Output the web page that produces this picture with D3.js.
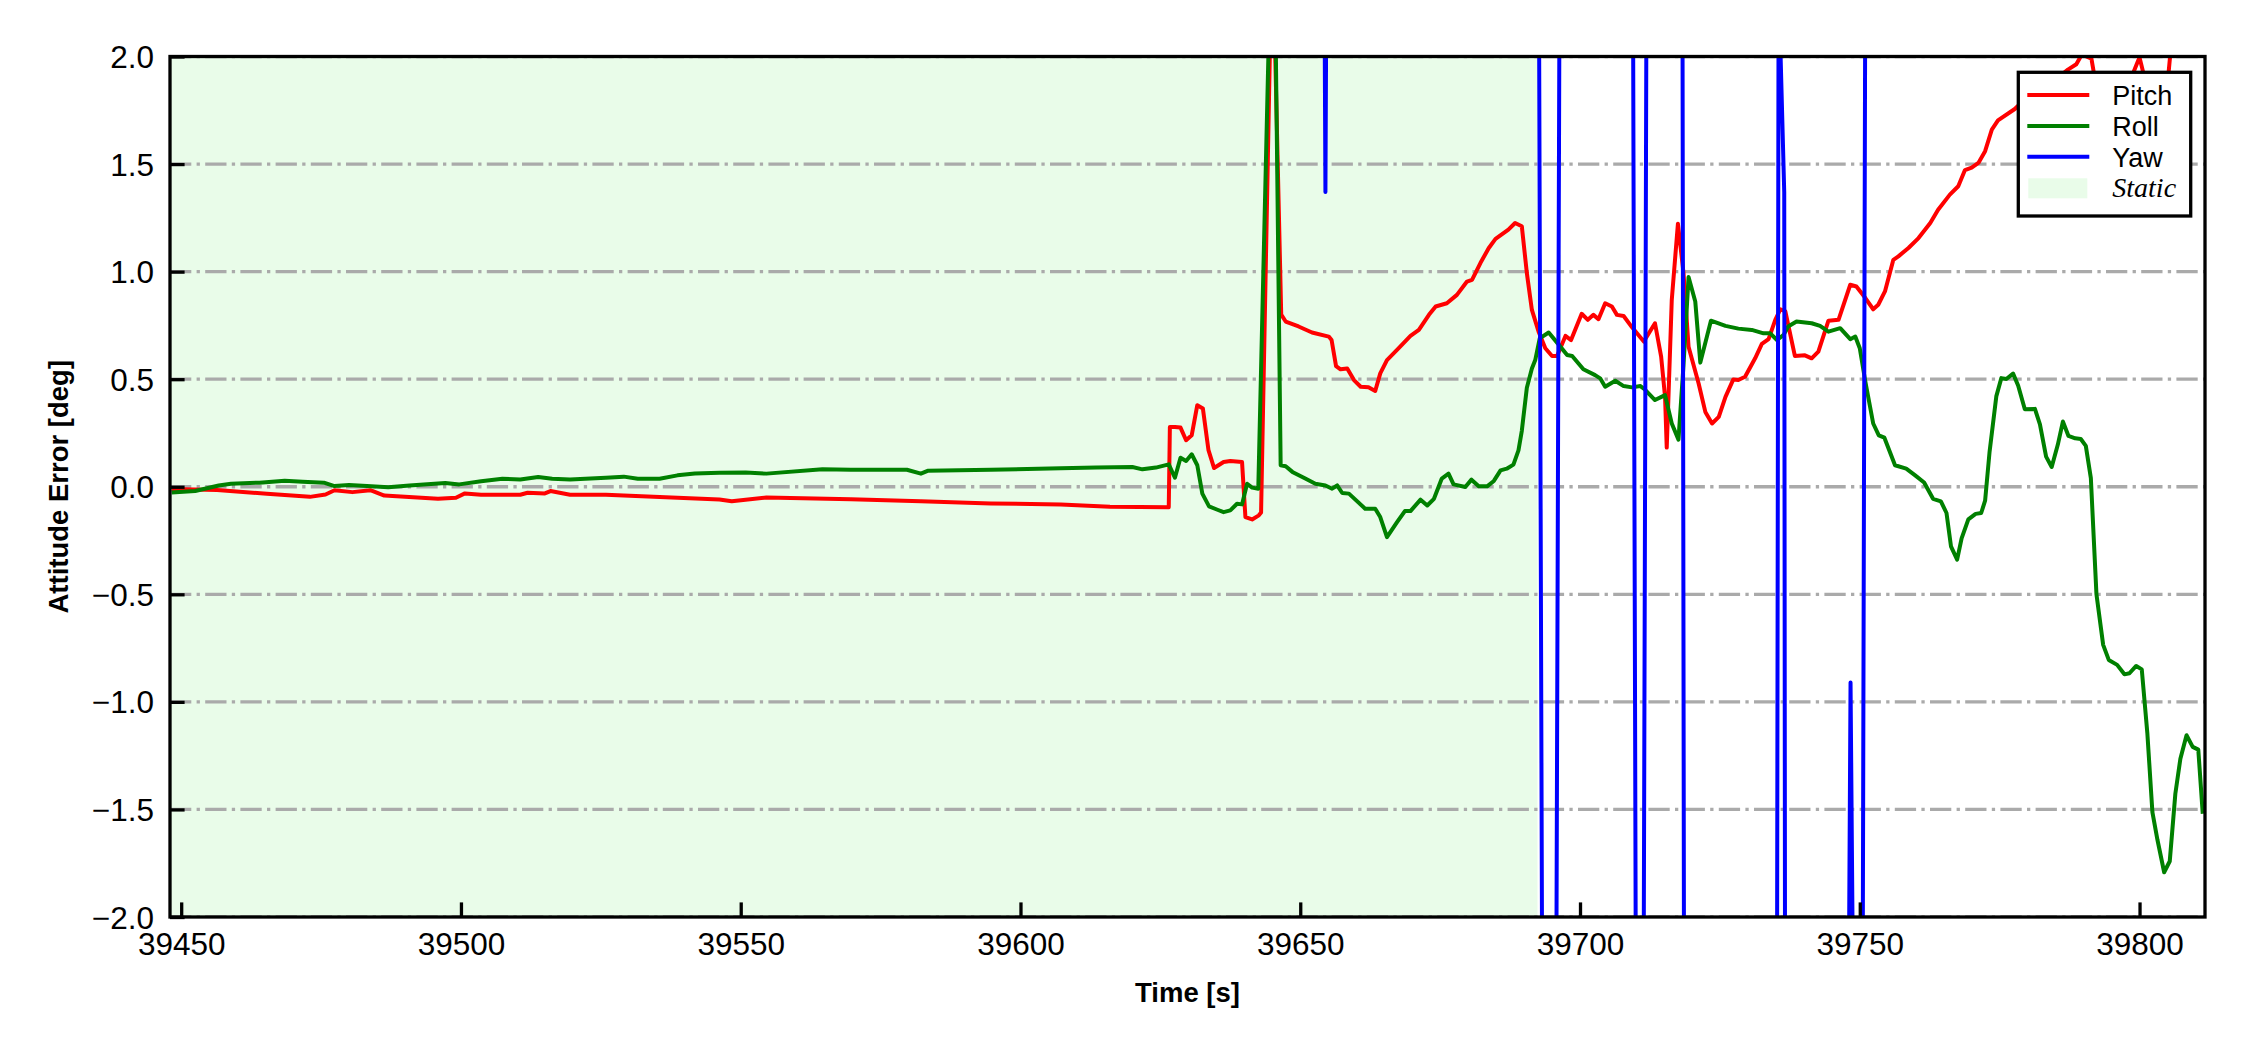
<!DOCTYPE html>
<html lang="en">
<head>
    <meta charset="UTF-8">
    <title>Attitude Error</title>
    <script type="text/javascript" src="https://d3js.org/d3.v7.min.js"></script>
    <style>
       body{ margin:0; background:white; }
       text{ font-family:"Liberation Sans", Arial, sans-serif; fill:black; }
    </style>
</head>
<body>
    <script type="text/javascript">
    // ticks and the static interval
    var xTicks = [39450, 39500, 39550, 39600, 39650, 39700, 39750, 39800];
    var yTicks = [-2.0, -1.5, -1.0, -0.5, 0.0, 0.5, 1.0, 1.5, 2.0];
    var staticSpan = [39440, 39692.4];
    var seriesNames = ["Pitch", "Roll", "Yaw"];

    // [time s, error deg]
    var pitch = [
        [39448.3,-0.010],[39456.4,-0.015],[39465.3,-0.033],[39473.0,-0.047],[39475.8,-0.036],
        [39477.4,-0.016],[39480.6,-0.025],[39483.8,-0.016],[39486.3,-0.041],[39495.9,-0.056],
        [39499.1,-0.051],[39500.7,-0.031],[39503.6,-0.037],[39510.6,-0.037],[39511.9,-0.028],
        [39515.0,-0.031],[39516.0,-0.020],[39519.5,-0.037],[39525.9,-0.037],[39535.5,-0.048],
        [39546.2,-0.059],[39548.4,-0.067],[39554.6,-0.050],[39569.7,-0.058],[39582.2,-0.067],
        [39594.7,-0.078],[39607.2,-0.082],[39616.0,-0.093],[39626.5,-0.095],[39626.7,0.278],
        [39627.6,0.278],[39628.6,0.275],[39629.6,0.216],[39630.6,0.239],[39631.6,0.379],
        [39632.6,0.364],[39633.6,0.170],[39634.6,0.087],[39636.3,0.115],[39637.5,0.120],
        [39639.6,0.115],[39640.2,-0.141],[39641.4,-0.152],[39642.6,-0.133],[39643.0,-0.120],
        [39645.0,2.600],[39646.6,0.800],[39647.4,0.768],[39649.7,0.745],[39652.1,0.717],
        [39655.1,0.698],[39655.6,0.682],[39656.4,0.561],[39657.2,0.546],[39658.4,0.550],
        [39659.6,0.496],[39660.8,0.465],[39662.2,0.462],[39663.4,0.445],[39664.3,0.527],
        [39665.5,0.589],[39667.6,0.644],[39669.7,0.701],[39671.2,0.729],[39673.0,0.799],
        [39674.2,0.838],[39676.2,0.853],[39678.0,0.892],[39679.8,0.954],[39680.7,0.962],
        [39682.2,1.040],[39683.7,1.110],[39684.9,1.152],[39687.2,1.195],[39688.4,1.226],
        [39689.6,1.211],[39690.5,0.993],[39691.4,0.822],[39692.6,0.721],[39693.8,0.644],
        [39695.0,0.608],[39695.9,0.608],[39697.4,0.701],[39698.4,0.682],[39700.3,0.804],
        [39701.4,0.776],[39702.4,0.799],[39703.3,0.779],[39704.5,0.853],[39705.7,0.838],
        [39706.6,0.799],[39707.8,0.794],[39709.3,0.741],[39711.4,0.675],[39713.4,0.760],
        [39714.5,0.605],[39715.2,0.418],[39715.5,0.182],[39716.4,0.869],[39717.5,1.223],
        [39718.5,0.993],[39719.4,0.651],[39721.2,0.480],[39722.4,0.348],[39723.6,0.294],
        [39724.8,0.325],[39726.0,0.418],[39727.4,0.499],[39728.3,0.496],[39729.5,0.511],
        [39731.3,0.597],[39732.5,0.664],[39733.7,0.686],[39734.9,0.776],[39735.8,0.825],
        [39736.7,0.815],[39738.4,0.608],[39740.2,0.611],[39741.4,0.597],[39742.6,0.628],
        [39744.4,0.772],[39746.2,0.776],[39748.3,0.939],[39749.4,0.931],[39751.0,0.877],
        [39752.4,0.825],[39753.3,0.846],[39754.5,0.908],[39756.0,1.055],[39756.9,1.071],
        [39758.7,1.110],[39760.5,1.156],[39762.6,1.226],[39764.0,1.288],[39766.1,1.358],
        [39767.6,1.397],[39768.8,1.472],[39770.0,1.483],[39771.2,1.505],[39772.4,1.560],
        [39773.6,1.660],[39774.7,1.703],[39777.7,1.756],[39780.7,1.831],[39783.7,1.873],
        [39786.0,1.914],[39787.2,1.939],[39788.7,1.964],[39789.7,2.010],[39791.4,1.990],
        [39792.0,1.900],[39795.0,1.800],[39798.5,1.900],[39800.0,1.996],[39800.9,1.900],
        [39803.0,1.750],[39805.1,1.900],[39806.0,2.150],[39808.5,2.300],[39811.7,2.350]
    ];

    var roll = [
        [39448.3,-0.027],[39452.5,-0.020],[39456.7,0.006],[39458.9,0.014],[39464.0,0.019],
        [39468.5,0.028],[39471.7,0.023],[39475.5,0.019],[39477.4,0.003],[39480.0,0.008],
        [39483.2,0.003],[39487.0,-0.002],[39490.8,0.006],[39497.2,0.017],[39499.7,0.011],
        [39503.6,0.026],[39507.4,0.037],[39510.6,0.034],[39513.8,0.045],[39516.3,0.037],
        [39519.5,0.034],[39525.9,0.042],[39529.1,0.047],[39531.6,0.037],[39535.5,0.037],
        [39538.7,0.053],[39541.8,0.062],[39546.2,0.065],[39550.9,0.066],[39554.6,0.061],
        [39564.6,0.081],[39569.7,0.079],[39579.7,0.079],[39582.2,0.061],[39583.4,0.074],
        [39594.7,0.079],[39607.2,0.086],[39613.5,0.090],[39620.0,0.092],[39621.8,0.081],
        [39624.2,0.089],[39626.5,0.104],[39627.6,0.042],[39628.6,0.135],[39629.6,0.120],
        [39630.6,0.151],[39631.6,0.100],[39632.5,-0.032],[39633.7,-0.091],[39635.2,-0.107],
        [39636.3,-0.118],[39637.5,-0.110],[39638.7,-0.079],[39639.6,-0.082],[39640.5,0.014],
        [39641.4,-0.004],[39642.5,-0.009],[39645.2,3.000],[39646.5,0.100],[39647.4,0.095],
        [39648.6,0.069],[39650.9,0.038],[39652.7,0.014],[39654.5,0.006],[39655.7,-0.009],
        [39656.6,0.006],[39657.5,-0.029],[39658.7,-0.032],[39661.6,-0.102],[39663.4,-0.102],
        [39664.3,-0.141],[39665.5,-0.234],[39667.3,-0.165],[39668.7,-0.113],[39669.7,-0.113],
        [39671.5,-0.060],[39672.7,-0.087],[39673.9,-0.056],[39675.3,0.038],[39676.5,0.061],
        [39677.4,0.011],[39679.5,-0.001],[39680.6,0.033],[39681.9,0.002],[39683.4,0.002],
        [39684.6,0.027],[39685.8,0.076],[39686.9,0.084],[39688.1,0.103],[39689.0,0.169],
        [39689.6,0.260],[39690.5,0.460],[39691.4,0.550],[39692.0,0.589],[39692.8,0.690],
        [39694.4,0.717],[39695.9,0.670],[39697.7,0.612],[39698.6,0.608],[39700.6,0.546],
        [39702.7,0.519],[39703.6,0.504],[39704.5,0.465],[39706.3,0.493],[39707.8,0.468],
        [39709.3,0.462],[39710.8,0.468],[39711.6,0.452],[39713.4,0.403],[39715.2,0.426],
        [39716.4,0.294],[39717.6,0.219],[39718.5,0.566],[39719.4,0.975],[39720.6,0.861],
        [39721.5,0.577],[39723.4,0.772],[39726.0,0.748],[39728.3,0.735],[39730.7,0.729],
        [39732.8,0.713],[39734.0,0.713],[39735.2,0.682],[39736.4,0.706],[39737.2,0.745],
        [39738.7,0.768],[39741.4,0.760],[39742.9,0.748],[39744.4,0.721],[39746.5,0.737],
        [39748.3,0.686],[39749.2,0.698],[39750.0,0.644],[39751.0,0.488],[39752.4,0.294],
        [39753.4,0.239],[39754.4,0.228],[39756.3,0.100],[39758.3,0.084],[39759.9,0.053],
        [39761.5,0.020],[39763.1,-0.056],[39764.5,-0.068],[39765.5,-0.122],[39766.3,-0.277],
        [39767.4,-0.339],[39768.2,-0.240],[39769.4,-0.152],[39770.7,-0.126],[39771.7,-0.122],
        [39772.4,-0.065],[39773.2,0.163],[39774.4,0.420],[39775.3,0.505],[39776.2,0.501],
        [39777.4,0.526],[39778.3,0.471],[39779.5,0.360],[39781.3,0.362],[39782.2,0.290],
        [39783.3,0.140],[39784.3,0.092],[39785.4,0.196],[39786.3,0.303],[39787.3,0.236],
        [39788.5,0.225],[39789.5,0.222],[39790.4,0.190],[39791.3,0.040],[39792.3,-0.500],
        [39793.5,-0.735],[39794.5,-0.805],[39796.0,-0.828],[39797.3,-0.872],[39798.2,-0.867],
        [39799.4,-0.833],[39800.4,-0.849],[39801.4,-1.147],[39802.3,-1.512],[39803.2,-1.641],
        [39804.4,-1.792],[39805.4,-1.741],[39806.4,-1.427],[39807.3,-1.264],[39808.4,-1.155],
        [39809.5,-1.209],[39810.5,-1.222],[39811.3,-1.520]
    ];

    var yaw = [
        [39448.0,2.50],[39654.3,2.50],[39654.5,1.37],[39654.7,2.50],
        [39692.64,2.50],[39693.26,-2.50],[39695.74,-2.50],[39696.36,2.50],
        [39709.45,2.50],[39710.0,-2.50],[39711.35,-2.50],[39711.9,2.50],
        [39718.3,2.50],[39718.6,-2.50],[39735.2,-2.50],[39735.5,2.50],
        [39735.75,2.10],[39736.5,1.37],[39736.65,-2.50],
        [39748.0,-2.50],[39748.35,-0.91],[39748.85,-2.50],
        [39750.5,-2.50],[39751.0,2.50],[39811.7,2.50]
    ];

    var width = 2250, height = 1050;
    var plotLeft = 170, plotRight = 2205, plotTop = 56.5, plotBottom = 917;
    var colors = ["red", "green", "blue"];
    var shadeColor = "#e9fce9";

    var svg = d3.select("body")
                .append("svg")
                .attr("width", width)
                .attr("height", height)
                .style("background-color", "white");

    var x = d3.scaleLinear()
              .domain([39448.0, 39811.7])
              .range([plotLeft, plotRight]);

    var y = d3.scaleLinear()
              .domain([-2, 2])
              .range([plotBottom, plotTop]);

    svg.append("clipPath")
       .attr("id", "plotClip")
       .append("rect")
       .attr("x", plotLeft)
       .attr("y", plotTop)
       .attr("width", plotRight - plotLeft)
       .attr("height", plotBottom - plotTop);

    var plot = svg.append("g").attr("clip-path", "url(#plotClip)");

    // static period shading
    plot.append("rect")
        .attr("x", x(staticSpan[0]))
        .attr("y", plotTop)
        .attr("width", x(staticSpan[1]) - x(staticSpan[0]))
        .attr("height", plotBottom - plotTop)
        .attr("fill", shadeColor);

    // horizontal dash-dot grid
    plot.selectAll("line.grid")
        .data(yTicks)
        .enter().append("line")
        .attr("class", "grid")
        .attr("x1", plotLeft)
        .attr("x2", plotRight)
        .attr("y1", function(d){ return y(d); })
        .attr("y2", function(d){ return y(d); })
        .attr("stroke", "#aaaaaa")
        .attr("stroke-width", 3.3)
        .attr("stroke-dasharray", "21.3,5.3,3.3,5.3");

    var line = d3.line()
                 .x(function(d){ return x(d[0]); })
                 .y(function(d){ return y(d[1]); });

    var series = [pitch, roll, yaw];
    plot.selectAll("path.series")
        .data(series)
        .enter().append("path")
        .attr("class", "series")
        .attr("d", line)
        .attr("fill", "none")
        .attr("stroke", function(d, i){ return colors[i]; })
        .attr("stroke-width", 4)
        .attr("stroke-linejoin", "round");

    // axes, ticks pointing inward
    var xAxis = svg.append("g")
                   .attr("transform", "translate(0," + plotBottom + ")")
                   .call(d3.axisBottom(x)
                           .tickValues(xTicks)
                           .tickFormat(d3.format("d"))
                           .tickSize(-14.6)
                           .tickSizeOuter(0)
                           .tickPadding(15.5));

    var yAxis = svg.append("g")
                   .attr("transform", "translate(" + plotLeft + ",0)")
                   .call(d3.axisLeft(y)
                           .tickValues(yTicks)
                           .tickFormat(d3.format(".1f"))
                           .tickSize(-14.6)
                           .tickSizeOuter(0)
                           .tickPadding(16));

    [xAxis, yAxis].forEach(function(ax){
        ax.select(".domain").remove();
        ax.selectAll(".tick line").attr("stroke", "black").attr("stroke-width", 3.3);
        ax.selectAll(".tick text")
          .attr("font-family", "Liberation Sans, Arial, sans-serif")
          .attr("font-size", "31.5px")
          .attr("fill", "black");
    });
    yAxis.selectAll(".tick text").attr("dy", "0.35em");

    // frame
    svg.append("rect")
       .attr("x", plotLeft)
       .attr("y", plotTop)
       .attr("width", plotRight - plotLeft)
       .attr("height", plotBottom - plotTop)
       .attr("fill", "none")
       .attr("stroke", "black")
       .attr("stroke-width", 3.3);

    // axis labels
    svg.append("text")
       .attr("x", (plotLeft + plotRight) / 2)
       .attr("y", 1002)
       .attr("text-anchor", "middle")
       .attr("font-size", "27.5px")
       .attr("font-weight", "bold")
       .text("Time [s]");

    svg.append("text")
       .attr("transform", "translate(68," + (plotTop + plotBottom) / 2 + ") rotate(-90)")
       .attr("text-anchor", "middle")
       .attr("font-size", "27.5px")
       .attr("font-weight", "bold")
       .text("Attitude Error [deg]");

    // legend
    var legend = svg.append("g").attr("transform", "translate(2018.3,72.3)");
    legend.append("rect")
          .attr("width", 172.4)
          .attr("height", 143.7)
          .attr("fill", "white")
          .attr("stroke", "black")
          .attr("stroke-width", 3.3);

    var rowY = [22.7, 53.7, 84.4];
    seriesNames.forEach(function(name, i){
        legend.append("line")
              .attr("x1", 9).attr("x2", 71)
              .attr("y1", rowY[i]).attr("y2", rowY[i])
              .attr("stroke", colors[i])
              .attr("stroke-width", 4);
        legend.append("text")
              .attr("x", 94)
              .attr("y", rowY[i] + 10)
              .attr("font-size", "27px")
              .text(name);
    });

    legend.append("rect")
          .attr("x", 10).attr("y", 106)
          .attr("width", 59).attr("height", 20)
          .attr("fill", shadeColor);
    legend.append("text")
          .attr("x", 94)
          .attr("y", 124.5)
          .attr("font-size", "28px")
          .attr("font-style", "italic")
          .style("font-family", "'Liberation Serif', 'Times New Roman', serif")
          .text("Static");
    </script>
</body>
</html>
